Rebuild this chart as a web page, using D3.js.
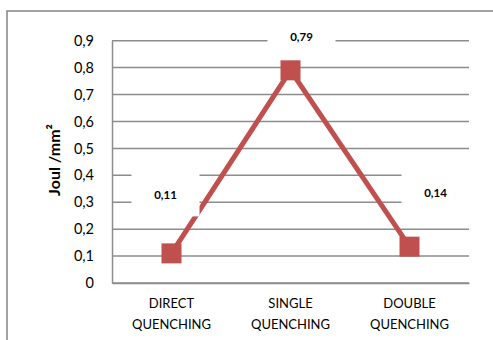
<!DOCTYPE html>
<html>
<head>
<meta charset="utf-8">
<script src="https://cdn.jsdelivr.net/npm/d3@7"></script>
<style>
html,body{margin:0;padding:0;background:#fff;}
svg{display:block;}
</style>
</head>
<body>
<svg id="chart" width="493" height="340"></svg>
<script>
// ---- data ----
const categories = [["DIRECT","QUENCHING"],["SINGLE","QUENCHING"],["DOUBLE","QUENCHING"]];
const values = [0.11, 0.79, 0.135];
const yTicks = [0,0.1,0.2,0.3,0.4,0.5,0.6,0.7,0.8,0.9];
const yTitle = "Joul /mm²";

// ---- layout ----
const W = 493, H = 340;
const plot = {left:112, right:469, top:40.7, bottom:283};
const labelOffsets = [[-6,-58],[11,-33],[26,-54]]; // label centre relative to point
const svg = d3.select("#chart");
const font = "Lato, 'Open Sans', sans-serif";
const gray = "#8c8c8c";
const red = "#C0504D";

// chart border (extends beyond window at right/bottom)
svg.append("rect").attr("x",7).attr("y",11).attr("width",W+20).attr("height",H+20)
  .attr("fill","#fff").attr("stroke",gray).attr("stroke-width",1.6);

const x = d3.scaleBand().domain(d3.range(categories.length)).range([plot.left, plot.right]);
const y = d3.scaleLinear().domain([0,0.9]).range([plot.bottom, plot.top]);

// gridlines
svg.append("g").selectAll("line").data(yTicks).join("line")
  .attr("x1",plot.left).attr("x2",plot.right)
  .attr("y1",d=>y(d)).attr("y2",d=>y(d))
  .attr("stroke",gray).attr("stroke-width",1.5);

// y axis
const yAxis = svg.append("g").attr("transform",`translate(${plot.left},0)`)
  .call(d3.axisLeft(y).tickValues(yTicks).tickSize(0).tickPadding(18)
    .tickFormat(d=>d3.format(".1~f")(d).replace(".",",")));
yAxis.select(".domain").attr("stroke",gray).attr("stroke-width",1.5);
yAxis.selectAll("text").attr("font-family",font).attr("font-size",14.5).attr("fill","#000");

// x axis
const xAxis = svg.append("g").attr("transform",`translate(0,${plot.bottom})`)
  .call(d3.axisBottom(x).tickSize(0).tickFormat(""));
xAxis.select(".domain").attr("stroke",gray).attr("stroke-width",1.5);
xAxis.selectAll(".tick").each(function(d){
  const t = d3.select(this).append("text").attr("fill","#000")
    .attr("font-family",font).attr("font-size",13).attr("text-anchor","middle");
  categories[d].forEach((s,i)=>{
    t.append("tspan").attr("x",0).attr("y",25+i*21).text(s);
  });
});

// y title
svg.append("text").attr("transform",`translate(60,160) rotate(-90)`)
  .attr("text-anchor","middle").attr("font-family",font).attr("font-weight","bold")
  .attr("font-size",16).attr("fill","#000").text(yTitle);

// line
const cx = i => x(i) + x.bandwidth()/2;
svg.append("path").datum(values)
  .attr("d", d3.line().x((d,i)=>cx(i)).y(d=>y(d)))
  .attr("fill","none").attr("stroke",red).attr("stroke-width",5);

// markers
svg.append("g").selectAll("rect").data(values).join("rect")
  .attr("x",(d,i)=>cx(i)-10).attr("y",d=>y(d)-10)
  .attr("width",20).attr("height",20).attr("fill",red);

// data labels with white boxes
const lbl = svg.append("g").selectAll("g").data(values).join("g")
  .attr("transform",(d,i)=>`translate(${cx(i)+labelOffsets[i][0]},${y(d)+labelOffsets[i][1]})`);
lbl.append("rect").attr("x",-34).attr("y",-22).attr("width",68).attr("height",43).attr("fill","#fff");
lbl.append("text").attr("text-anchor","middle").attr("dy","0.35em")
  .attr("font-family",font).attr("font-weight","bold").attr("font-size",11.5).attr("fill","#000")
  .text(d=>d3.format(".2f")(d).replace(".",","));
</script>
</body>
</html>
